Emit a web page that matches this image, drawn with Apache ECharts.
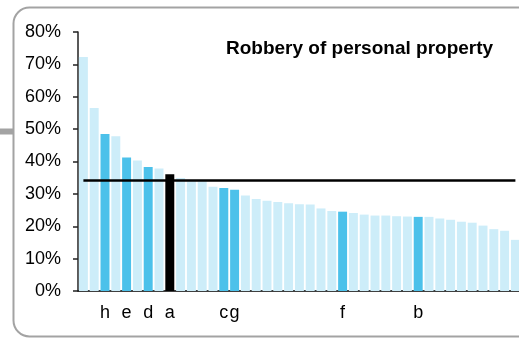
<!DOCTYPE html>
<html>
<head>
<meta charset="utf-8">
<script src="https://cdn.jsdelivr.net/npm/echarts@6/dist/echarts.min.js"></script>
<style>
  html, body { margin: 0; padding: 0; background: #fff; overflow: hidden; }
  #chart { width: 560px; height: 339px; }
</style>
</head>
<body>
<div id="chart"></div>
<script>
// Share of robberies of personal property, one bar per area, sorted high to low
const rates = [
  72.3, 56.5, 48.5, 47.8, 41.2, 40.3, 38.3, 37.8, 36.1, 34.9,
  33.9, 33.9, 32.2, 31.8, 31.3, 29.5, 28.4, 27.9, 27.5, 27.1,
  26.8, 26.7, 25.5, 24.7, 24.5, 24.1, 23.6, 23.3, 23.3, 23.1,
  23.0, 22.9, 22.9, 22.4, 22.0, 21.4, 21.1, 20.2, 19.1, 18.6,
  15.8
];
// Letter codes shown under the named areas (blank for the others)
const codes = [
  '', '', 'h', '', 'e', '', 'd', '', 'a', '',
  '', '', '', 'c', 'g', '', '', '', '', '',
  '', '', '', '', 'f', '', '', '', '', '',
  '', 'b', '', '', '', '', '', '', '', '',
  ''
];
const focusCode = 'a';
const averageRate = 34.3;
const yTicks = [0, 10, 20, 30, 40, 50, 60, 70, 80];
const chartTitle = 'Robbery of personal property';

const categories = rates.map((_, i) => String(i + 1));
const FONT = 'Liberation Sans, Arial, Helvetica, sans-serif';

const barData = rates.map((v, i) => {
  let color = '#cdedf9';
  if (codes[i] === focusCode) color = '#000000';
  else if (codes[i]) color = '#4cc1ea';
  return { value: v, itemStyle: { color: color } };
});

const chart = echarts.init(document.getElementById('chart'), null, { renderer: 'canvas' });
chart.setOption({
  animation: false,
  backgroundColor: '#ffffff',
  title: {
    text: chartTitle,
    left: 221,
    top: 34,
    textStyle: { fontFamily: FONT, fontSize: 19, fontWeight: 'bold', color: '#000' }
  },
  graphic: [
    {
      type: 'rect',
      shape: { x: 13.5, y: 7.5, width: 620, height: 329, r: 16 },
      style: { fill: 'none', stroke: '#a3a3a3', lineWidth: 2 },
      z: -1
    },
    {
      type: 'rect',
      shape: { x: 0, y: 128.5, width: 13, height: 6 },
      style: { fill: '#a3a3a3' },
      z: -1
    }
  ],
  grid: { left: 78, top: 32, bottom: 48, right: 39.2, containLabel: false },
  xAxis: {
    type: 'category',
    data: categories,
    boundaryGap: true,
    axisLine: { show: true, lineStyle: { color: '#000', width: 1.5 } },
    axisTick: { show: false },
    axisLabel: {
      interval: 0,
      margin: 13,
      fontFamily: FONT,
      fontSize: 18,
      color: '#000',
      formatter: (val, idx) => codes[idx]
    },
    splitLine: { show: false }
  },
  yAxis: {
    type: 'value',
    min: yTicks[0],
    max: yTicks[yTicks.length - 1],
    interval: yTicks[1] - yTicks[0],
    axisLine: { show: true, lineStyle: { color: '#222', width: 1.5 } },
    axisTick: { show: true, length: 5, lineStyle: { color: '#222', width: 1.5 } },
    axisLabel: {
      margin: 17,
      fontFamily: FONT,
      fontSize: 18,
      color: '#000',
      formatter: v => v + '%'
    },
    splitLine: { show: false }
  },
  series: [
    {
      type: 'bar',
      data: barData,
      barCategoryGap: '17%',
      itemStyle: { borderColor: '#ffffff', borderWidth: 0 },
      markLine: {
        silent: true,
        symbol: 'none',
        label: { show: false },
        lineStyle: { color: '#000', width: 2.5, type: 'solid' },
        data: [[
          { coord: [categories[0], averageRate] },
          { coord: [categories[categories.length - 1], averageRate] }
        ]]
      }
    }
  ]
});
</script>
</body>
</html>
